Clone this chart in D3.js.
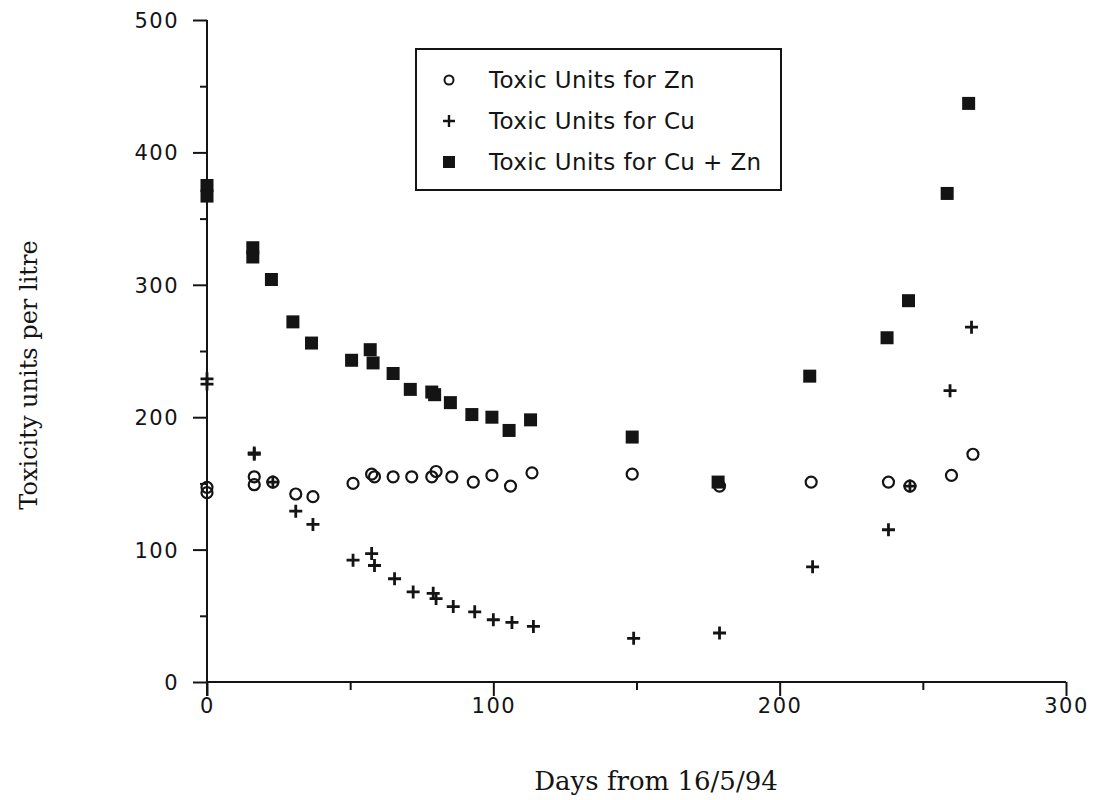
<!DOCTYPE html>
<meta charset="utf-8">
<style>
  body { margin: 0; background: #fff; }
</style>
<svg width="1094" height="800"></svg>
<script src="https://d3js.org/d3.v7.min.js"></script>
<script>
// [day, toxic units per litre]
var znData = [
  [0, 147], [0, 143], [16.5, 155], [16.5, 149], [23, 151], [31, 142], [37, 140],
  [51, 150], [57.5, 157], [58.5, 155], [65, 155], [71.5, 155], [78.5, 155], [80, 159],
  [85.5, 155], [93, 151], [99.5, 156], [106, 148], [113.5, 158], [148.5, 157],
  [179, 148], [211, 151], [238, 151], [245.5, 148], [260, 156], [267.5, 172]
]
var cuData = [
  [0, 229], [0, 225], [16.5, 173], [16.5, 172], [23, 151], [31, 129], [37, 119],
  [51, 92], [57.5, 97], [58.5, 88], [65.5, 78], [72, 68], [79, 67], [80, 63],
  [86, 57], [93.5, 53], [100, 47], [106.5, 45], [114, 42], [149, 33],
  [179, 37], [211.5, 87], [238, 115], [245.5, 148], [259.5, 220], [267, 268]
]
var sumData = [
  [0, 375], [0, 367], [16, 328], [16, 321], [22.5, 304], [30, 272], [36.5, 256],
  [50.5, 243], [57, 251], [58, 241], [65, 233], [71, 221], [78.5, 219], [79.5, 217],
  [85, 211], [92.5, 202], [99.5, 200], [105.5, 190], [113, 198], [148.5, 185],
  [178.5, 151], [210.5, 231], [237.5, 260], [245, 288], [258.5, 369], [266, 437]
]
var legendLabels = ['Toxic Units for Zn', 'Toxic Units for Cu', 'Toxic Units for Cu + Zn']

var ink = '#141414'
var sans = '"DejaVu Sans", Verdana, sans-serif'
var serif = '"DejaVu Serif", "Liberation Serif", serif'
var svg = d3.select('svg')

var x = d3.scaleLinear().domain([0, 300]).range([207, 1066])
var y = d3.scaleLinear().domain([0, 500]).range([682, 20])

// y axis
var yAxis = d3.axisLeft(y).tickValues(d3.range(0, 501, 50)).tickSize(14).tickFormat(function (d) {
  return d % 100 === 0 ? d : ''
})
var gy = svg.append('g').attr('transform', 'translate(207,0)').call(yAxis)
gy.select('.domain').attr('stroke', ink).attr('stroke-width', 2).attr('d', 'M0,20V696')
gy.selectAll('.tick line').attr('stroke', ink).attr('stroke-width', 2)
  .attr('x2', function (d) { return d % 100 === 0 ? -14 : -7 })
gy.selectAll('.tick text').attr('x', -28).attr('dy', '0.36em')
  .attr('font-family', sans).attr('font-size', 21).attr('letter-spacing', 1.5).attr('fill', ink)

// x axis
var xAxis = d3.axisBottom(x).tickValues(d3.range(0, 301, 50)).tickSize(14).tickFormat(function (d) {
  return d % 100 === 0 ? d : ''
})
var gx = svg.append('g').attr('transform', 'translate(0,682)').call(xAxis)
gx.select('.domain').attr('stroke', ink).attr('stroke-width', 2).attr('d', 'M207,0H1066')
gx.selectAll('.tick line').attr('stroke', ink).attr('stroke-width', 2)
  .attr('y2', function (d) { return d % 100 === 0 ? 14 : 8 })
gx.selectAll('.tick text').attr('y', 16).attr('dy', '0.71em')
  .attr('font-family', sans).attr('font-size', 21).attr('letter-spacing', 1.5).attr('fill', ink)

// axis titles
svg.append('text')
  .attr('transform', 'translate(37,375) rotate(-90)')
  .attr('text-anchor', 'middle')
  .attr('font-family', serif)
  .attr('font-size', 24).attr('fill', ink)
  .text('Toxicity units per litre')
svg.append('text')
  .attr('x', 656).attr('y', 790)
  .attr('text-anchor', 'middle')
  .attr('font-family', serif)
  .attr('font-size', 26).attr('fill', ink)
  .text('Days from 16/5/94')

// markers
function drawSquares(g, data, size) {
  g.selectAll('rect').data(data).enter().append('rect')
    .attr('x', function (d) { return x(d[0]) - size / 2 })
    .attr('y', function (d) { return y(d[1]) - size / 2 })
    .attr('width', size).attr('height', size)
    .attr('fill', ink)
}
function drawCircles(g, data, r) {
  g.selectAll('circle').data(data).enter().append('circle')
    .attr('cx', function (d) { return x(d[0]) })
    .attr('cy', function (d) { return y(d[1]) })
    .attr('r', r)
    .attr('fill', 'none').attr('stroke', ink).attr('stroke-width', 2.2)
}
function drawCrosses(g, data, h) {
  g.selectAll('path').data(data).enter().append('path')
    .attr('d', function (d) {
      var cx = x(d[0]), cy = y(d[1])
      return 'M' + (cx - h) + ',' + cy + 'H' + (cx + h) + 'M' + cx + ',' + (cy - h) + 'V' + (cy + h)
    })
    .attr('stroke', ink).attr('stroke-width', 2.8).attr('fill', 'none')
}

drawSquares(svg.append('g'), sumData, 13)
drawCircles(svg.append('g'), znData, 5.5)
drawCrosses(svg.append('g'), cuData, 6.5)

// legend
var legend = svg.append('g')
legend.append('rect')
  .attr('x', 416).attr('y', 49).attr('width', 365).attr('height', 141)
  .attr('fill', '#fff').attr('stroke', ink).attr('stroke-width', 2)
var rowY = [80, 121, 162]
legend.append('circle').attr('cx', 449).attr('cy', rowY[0]).attr('r', 4.5)
  .attr('fill', 'none').attr('stroke', ink).attr('stroke-width', 2)
legend.append('path')
  .attr('d', 'M443,' + rowY[1] + 'H455M449,' + (rowY[1] - 6) + 'V' + (rowY[1] + 6))
  .attr('stroke', ink).attr('stroke-width', 2.4)
legend.append('rect').attr('x', 443).attr('y', rowY[2] - 6).attr('width', 12).attr('height', 12)
  .attr('fill', ink)
legend.selectAll('text.lab').data(legendLabels).enter().append('text')
  .attr('class', 'lab')
  .attr('x', 489)
  .attr('y', function (d, i) { return rowY[i] })
  .attr('dy', '0.36em')
  .attr('font-family', sans)
  .attr('font-size', 23).attr('letter-spacing', 0.4).attr('fill', ink)
  .text(function (d) { return d })
</script>
